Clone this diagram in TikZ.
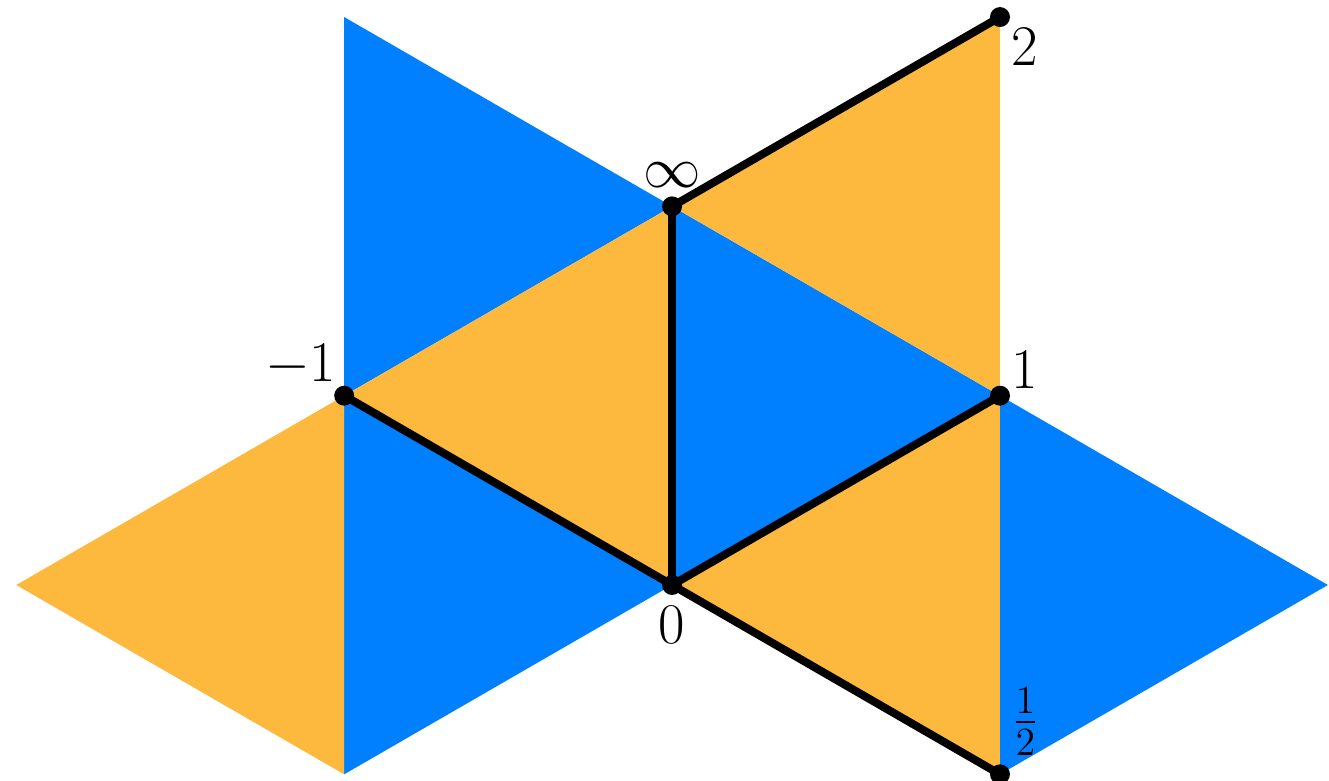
\documentclass[tikz,border=0pt]{standalone}
\usepackage{amsmath}
\usepackage{tikz}
\usetikzlibrary{positioning}
\definecolor{skyblue}{RGB}{0,128,255}
\definecolor{sunorange}{RGB}{253,185,61}

\begin{document}
\begin{tikzpicture}[scale=1,
    bluetri/.style={fill=skyblue},
    orangetri/.style={fill=sunorange},
    edge/.style={line width=2.4pt},
    lbl/.style={font=\LARGE}]
    \useasboundingbox (-7.10,-2.07) rectangle (6.94,6.18);

    % Vertices of the triangle grid (side 4, half width 2*sqrt(3))
    \coordinate (zero) at (0,0);
    \coordinate (infty) at (0,4);
    \coordinate (mone) at (-3.4641,2);
    \coordinate (one) at (3.4641,2);
    \coordinate (two) at (3.4641,6);
    \coordinate (half) at (3.4641,-2);
    \coordinate (tl) at (-3.4641,6);
    \coordinate (bl) at (-3.4641,-2);
    \coordinate (fl) at (-6.9282,0);
    \coordinate (fr) at (6.9282,0);

    % Blue triangles
    \fill[bluetri] (tl) -- (mone) -- (infty) -- cycle;
    \fill[bluetri] (infty) -- (zero) -- (one) -- cycle;
    \fill[bluetri] (mone) -- (bl) -- (zero) -- cycle;
    \fill[bluetri] (one) -- (half) -- (fr) -- cycle;

    % Orange triangles
    \fill[orangetri] (infty) -- (two) -- (one) -- cycle;
    \fill[orangetri] (mone) -- (infty) -- (zero) -- cycle;
    \fill[orangetri] (zero) -- (one) -- (half) -- cycle;
    \fill[orangetri] (fl) -- (mone) -- (bl) -- cycle;

    % Black edges
    \draw[edge] (infty) -- (two);
    \draw[edge] (infty) -- (zero);
    \draw[edge] (mone) -- (zero);
    \draw[edge] (zero) -- (one);
    \draw[edge] (zero) -- (half);

    % Dots
    \foreach \p in {zero,infty,mone,one,two,half}
        \fill (\p) circle (3pt);

    % Labels
    \node[lbl, above=0.07cm of infty] (tinfty) {$\infty$};
    \node[lbl, anchor=north west] (ttwo) at (two) {$2$};
    \node[lbl, anchor=south east] (tmone) at ([xshift=0.04cm,yshift=-0.02cm]mone) {$-1$};
    \node[lbl, anchor=south west] (tone) at ([yshift=-0.05cm]one) {$1$};
    \node[lbl, below=0.1cm of zero] (tzero) {$0$};
    \node[lbl, anchor=south west] (thalf) at ([yshift=0.07cm]half) {$\frac{1}{2}$};

\end{tikzpicture}
\end{document}
